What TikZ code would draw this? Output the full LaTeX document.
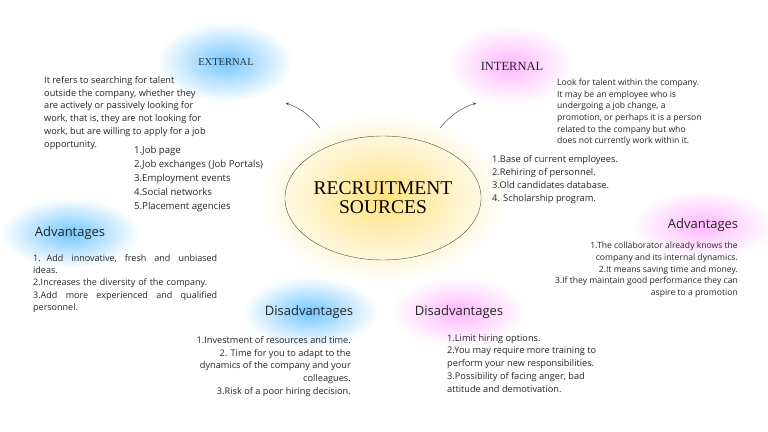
\documentclass[tikz,border=0pt]{standalone}
\usetikzlibrary{shapes.geometric}
\usepackage{fontspec}
\setmainfont{Open Sans}
\newfontfamily\serif{Liberation Serif}
\begin{document}
\begin{tikzpicture}[x=1pt,y=-1pt,
  body/.style={inner sep=0pt,font=\fontsize{9.2}{12.8}\selectfont,text=black!85},
  blobb/.style={shade,inner color=cyan!60!blue!55,outer color=white,draw=none},
  blobp/.style={shade,inner color=magenta!28,outer color=white,draw=none},
  head/.style={font=\fontsize{13}{14}\selectfont,text=black!85},
  arr/.style={->,>=stealth,thin,black!80}]
\fill[white] (0,0) rectangle (768,431);
\useasboundingbox (0,0) rectangle (768,431);
% blobs
\shade[blobb] (225,62) ellipse (68 and 40);
\shade[blobp] (510,65) ellipse (64 and 40);
\shade[blobb] (70,233) ellipse (70 and 35);
\shade[blobb] (310,312) ellipse (68 and 35);
\shade[blobp] (459,312) ellipse (68 and 35);
\shade[blobp] (703,225) ellipse (72 and 35);
\shade[inner color=yellow!55!orange!50,outer color=white] (383,198) ellipse (125 and 85);
% center
\node[draw=black!70,ellipse,minimum width=190,minimum height=124,inner sep=0pt,
  font=\serif\fontsize{19.5}{19}\selectfont,align=center] (c) at (383,198) {RECRUITMENT\\SOURCES};
\node[font=\serif\fontsize{10.5}{11}\selectfont,text=black!80] (ext) at (226,62) {EXTERNAL};
\node[font=\serif\fontsize{12.5}{12}\selectfont,text=black!85] (int) at (512,66) {INTERNAL};
\coordinate (e1) at (286,103);
\coordinate (i1) at (476,103);
\coordinate (s1) at (320,128);
\coordinate (s2) at (440,128);
\draw[arr] (s1) to[bend right=15] (e1);
\draw[arr] (s2) to[bend left=15] (i1);
% external
\node[body,anchor=north west,align=left] (extd) at (44,76) {It refers to searching for talent\\outside the company, whether they\\are actively or passively looking for\\work, that is, they are not looking for\\work, but are willing to apply for a job\\opportunity.};
\node[body,anchor=north west,align=left,font=\fontsize{9.6}{14}\selectfont] (extl) at (134,146) {1.Job page\\2.Job exchanges (Job Portals)\\3.Employment events\\4.Social networks\\5.Placement agencies};
% internal
\node[body,anchor=north west,align=left,font=\fontsize{8.6}{11.6}\selectfont] (intd) at (557,79) {Look for talent within the company.\\It may be an employee who is\\undergoing a job change, a\\promotion, or perhaps it is a person\\related to the company but who\\does not currently work within it.};
\node[body,anchor=north west,align=left,font=\fontsize{9.3}{13.2}\selectfont] (intl) at (492,155) {1.Base of current employees.\\2.Rehiring of personnel.\\3.Old candidates database.\\4. Scholarship program.};
% advantages left
\node[head] (al) at (70,233) {Advantages};
\node[body,anchor=north west,text width=184,align=left,font=\fontsize{9}{12.4}\selectfont] (alt) at (33,254) {1.\ \ Add\hfill innovative,\hfill fresh\hfill and\hfill unbiased\\ideas.\\2.Increases the diversity of the company.\\3.Add\hfill more\hfill experienced\hfill and\hfill qualified\\personnel.};
% advantages right
\node[head] (ar) at (703,225) {Advantages};
\node[body,anchor=north east,align=right,font=\fontsize{8.6}{11.7}\selectfont] (art) at (738,242) {1.The collaborator already knows the\\company and its internal dynamics.\\2.It means saving time and money.\\3.If they maintain good performance they can\\aspire to a promotion};
% disadvantages
\node[head] (dl) at (309,312) {Disadvantages};
\node[body,anchor=north east,align=right] (dlt) at (351,336) {1.Investment of resources and time.\\2. Time for you to adapt to the\\dynamics of the company and your\\colleagues.\\3.Risk of a poor hiring decision.};
\node[head] (dr) at (459,312) {Disadvantages};
\node[body,anchor=north west,align=left] (drt) at (447,334) {1.Limit hiring options.\\2.You may require more training to\\perform your new responsibilities.\\3.Possibility of facing anger, bad\\attitude and demotivation.};
\end{tikzpicture}
\end{document}
